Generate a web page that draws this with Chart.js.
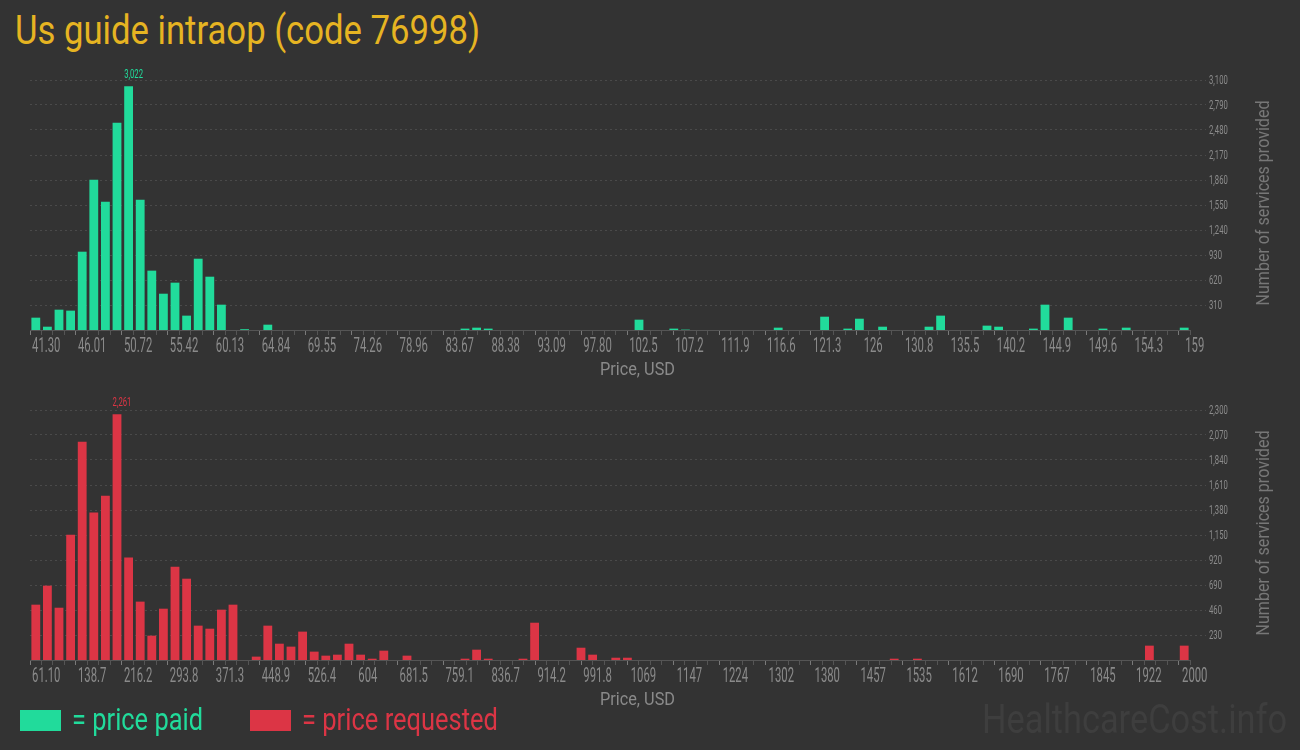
<!DOCTYPE html>
<html><head><meta charset="utf-8">
<script src="https://cdn.jsdelivr.net/npm/chart.js@4.4.1/dist/chart.umd.min.js"></script>
<style>
html,body{margin:0;padding:0;background:#333333;width:1300px;height:750px;overflow:hidden;font-family:Roboto,sans-serif}
.c{position:absolute;left:0;width:1300px;height:325px}
.t{position:absolute;white-space:nowrap;transform-origin:0 0;line-height:1}
.box{position:absolute;width:41px;height:21px}
</style></head><body>
<div class="c" style="top:60px"><canvas id="paid"></canvas></div>
<div class="c" style="top:390px"><canvas id="req"></canvas></div>

<div class="t fit" data-w="465" style="left:15px;top:10px;font-size:41px;color:#e6b422">Us guide intraop (code 76998)</div>

<div class="t fit" data-w="75" style="left:600px;top:360px;font-size:18px;color:#8a8a8a">Price, USD</div>
<div class="t fit" data-w="75" style="left:600px;top:690px;font-size:18px;color:#8a8a8a">Price, USD</div>

<div class="t rot" data-w="205" data-cx="1263" data-cy="203" style="font-size:18px;color:#777">Number of services provided</div>
<div class="t rot" data-w="205" data-cx="1263" data-cy="533" style="font-size:18px;color:#777">Number of services provided</div>

<div class="box" style="left:20px;top:710px;background:#21db9b"></div>
<div class="t fit" data-w="131" style="left:72px;top:704px;font-size:31px;color:#21db9b">= price paid</div>
<div class="box" style="left:250px;top:710px;background:#dc3545"></div>
<div class="t fit" data-w="196" style="left:302px;top:704px;font-size:31px;color:#dc3545">= price requested</div>

<div class="t fit" data-w="305" style="left:982px;top:700px;font-size:40px;color:#3e3e3e">HealthcareCost.info</div>

<script>
// ---- data ----
const paidTickLabels = ['41.30','46.01','50.72','55.42','60.13','64.84','69.55','74.26','78.96','83.67','88.38','93.09','97.80','102.5','107.2','111.9','116.6','121.3','126','130.8','135.5','140.2','144.9','149.6','154.3','159'];
const paidValues = [
  153, 41, 252, 240, 971, 1864, 1591, 2571, 3022, 1616,
  736, 450, 587, 178, 884, 661, 314, 0, 10, 0,
  66, 0, 0, 0, 0, 0, 0, 0, 0, 0,
  0, 0, 0, 0, 0, 0, 0, 17, 29, 17,
  0, 0, 0, 0, 0, 0, 0, 0, 0, 0,
  0, 0, 128, 0, 0, 17, 5, 0, 0, 0,
  0, 0, 0, 0, 29, 0, 0, 0, 165, 0,
  17, 140, 0, 41, 0, 0, 0, 41, 178, 0,
  0, 0, 54, 41, 0, 0, 17, 314, 0, 153,
  0, 0, 17, 0, 29, 0, 0, 0, 0, 29
];
const paidYTicks = [310, 620, 930, 1240, 1550, 1860, 2170, 2480, 2790, 3100];

const reqTickLabels = ['61.10','138.7','216.2','293.8','371.3','448.9','526.4','604','681.5','759.1','836.7','914.2','991.8','1069','1147','1224','1302','1380','1457','1535','1612','1690','1767','1845','1922','2000'];
const reqValues = [
  509, 684, 481, 1153, 2009, 1356, 1512, 2261, 942, 537,
  224, 472, 859, 748, 316, 288, 463, 509, 0, 31,
  316, 150, 123, 261, 77, 40, 49, 150, 49, 12,
  86, 0, 40, 0, 0, 0, 0, 12, 95, 12,
  0, 0, 12, 343, 0, 0, 0, 113, 49, 0,
  21, 21, 0, 0, 0, 0, 0, 0, 0, 0,
  0, 0, 0, 0, 0, 0, 0, 0, 0, 0,
  0, 0, 0, 0, 12, 0, 12, 0, 0, 0,
  0, 0, 0, 0, 0, 0, 0, 0, 0, 0,
  0, 0, 0, 0, 0, 0, 132, 0, 0, 132
];
const reqYTicks = [230, 460, 690, 920, 1150, 1380, 1610, 1840, 2070, 2300];

// ---- text fitting (layout only) ----
document.querySelectorAll('.fit').forEach(el => {
  const w = el.getBoundingClientRect().width;
  el.style.transform = 'scaleX(' + (parseFloat(el.dataset.w) / w) + ')';
});
document.querySelectorAll('.rot').forEach(el => {
  const r = el.getBoundingClientRect();
  const s = parseFloat(el.dataset.w) / r.width;
  el.style.left = (parseFloat(el.dataset.cx) - r.width / 2) + 'px';
  el.style.top = (parseFloat(el.dataset.cy) - r.height / 2) + 'px';
  el.style.transformOrigin = '50% 50%';
  el.style.transform = 'rotate(-90deg) scaleX(' + s + ')';
});

// draw condensed text: centre/left anchored, horizontally squeezed
function condText(ctx, str, x, y, size, sx, color, align) {
  ctx.save();
  ctx.font = '400 ' + size + 'px Roboto, sans-serif';
  ctx.fillStyle = color;
  ctx.textBaseline = 'alphabetic';
  ctx.textAlign = 'left';
  const w = ctx.measureText(str).width * sx;
  let left = x;
  if (align === 'center') left = x - w / 2;
  ctx.translate(left, y);
  ctx.scale(sx, 1);
  ctx.fillText(str, 0, 0);
  ctx.restore();
}

const condensedLabels = {
  id: 'condensedLabels',
  afterDraw(chart, args, opts) {
    const ctx = chart.ctx;
    const xs = chart.scales.xt, ys = chart.scales.y;
    const bottom = chart.chartArea.bottom;
    opts.tickLabels.forEach((lab, k) => {
      const px = xs.getPixelForValue(k * 4);
      condText(ctx, lab, px + 10.5, bottom + 22, 19.5, 0.58, '#8a8a8a', 'center');
    });
    opts.yTicks.forEach(v => {
      const py = ys.getPixelForValue(v);
      condText(ctx, v.toLocaleString('en-US'), chart.chartArea.right + 19, py + 4.3, 12, 0.64, '#8c8c8c', 'left');
    });
    // peak value label
    const ds = chart.data.datasets[0];
    const data = ds.data;
    let mi = 0;
    data.forEach((v, i) => { if (v > data[mi]) mi = i; });
    const bar = chart.getDatasetMeta(0).data[mi];
    condText(ctx, data[mi].toLocaleString('en-US'), bar.x - bar.width / 2, bar.y - 8.5, 12, 0.64, ds.backgroundColor, 'left');
  }
};

function makeChart(id, values, tickLabels, yTicks, color) {
  const n = values.length;
  const cats = values.map((_, i) => String(i));
  return new Chart(document.getElementById(id), {
    type: 'bar',
    data: {
      labels: cats,
      datasets: [{
        data: values, backgroundColor: color, borderWidth: 0,
        barPercentage: 0.76, categoryPercentage: 1, xAxisID: 'x', yAxisID: 'y'
      }]
    },
    options: {
      responsive: true, maintainAspectRatio: false, animation: false, events: [],
      layout: { padding: { left: 30, top: 20, right: 0, bottom: 0 } },
      plugins: {
        legend: { display: false }, tooltip: { enabled: false },
        condensedLabels: { tickLabels: tickLabels, yTicks: yTicks }
      },
      scales: {
        x: { type: 'category', display: false, offset: true },
        xt: {
          type: 'linear', position: 'bottom', min: 0, max: n,
          afterBuildTicks: s => { const t = []; for (let i = 0; i <= n; i++) t.push({ value: i }); s.ticks = t; },
          afterFit: s => { s.height = 55; },
          ticks: { display: false, autoSkip: false },
          grid: {
            drawOnChartArea: false, drawTicks: true, tickLength: 5,
            tickColor: c => (c.tick && c.tick.value % 4 === 0 ? '#7a7a7a' : '#555555')
          },
          border: { display: true, color: '#555555', width: 1 }
        },
        y: {
          position: 'right', min: 0, max: yTicks[yTicks.length - 1],
          afterBuildTicks: s => { s.ticks = yTicks.map(v => ({ value: v })); },
          afterFit: s => { s.width = 110; },
          ticks: { display: false },
          grid: {
            color: '#4a4a4a', lineWidth: 1, drawTicks: true, tickLength: 16,
            tickColor: '#4a4a4a', tickBorderDash: [2, 3]
          },
          border: { display: false, dash: [2, 3] }
        }
      }
    },
    plugins: [condensedLabels]
  });
}

makeChart('paid', paidValues, paidTickLabels, paidYTicks, '#21db9b');
makeChart('req', reqValues, reqTickLabels, reqYTicks, '#dc3545');
</script>
</body></html>
